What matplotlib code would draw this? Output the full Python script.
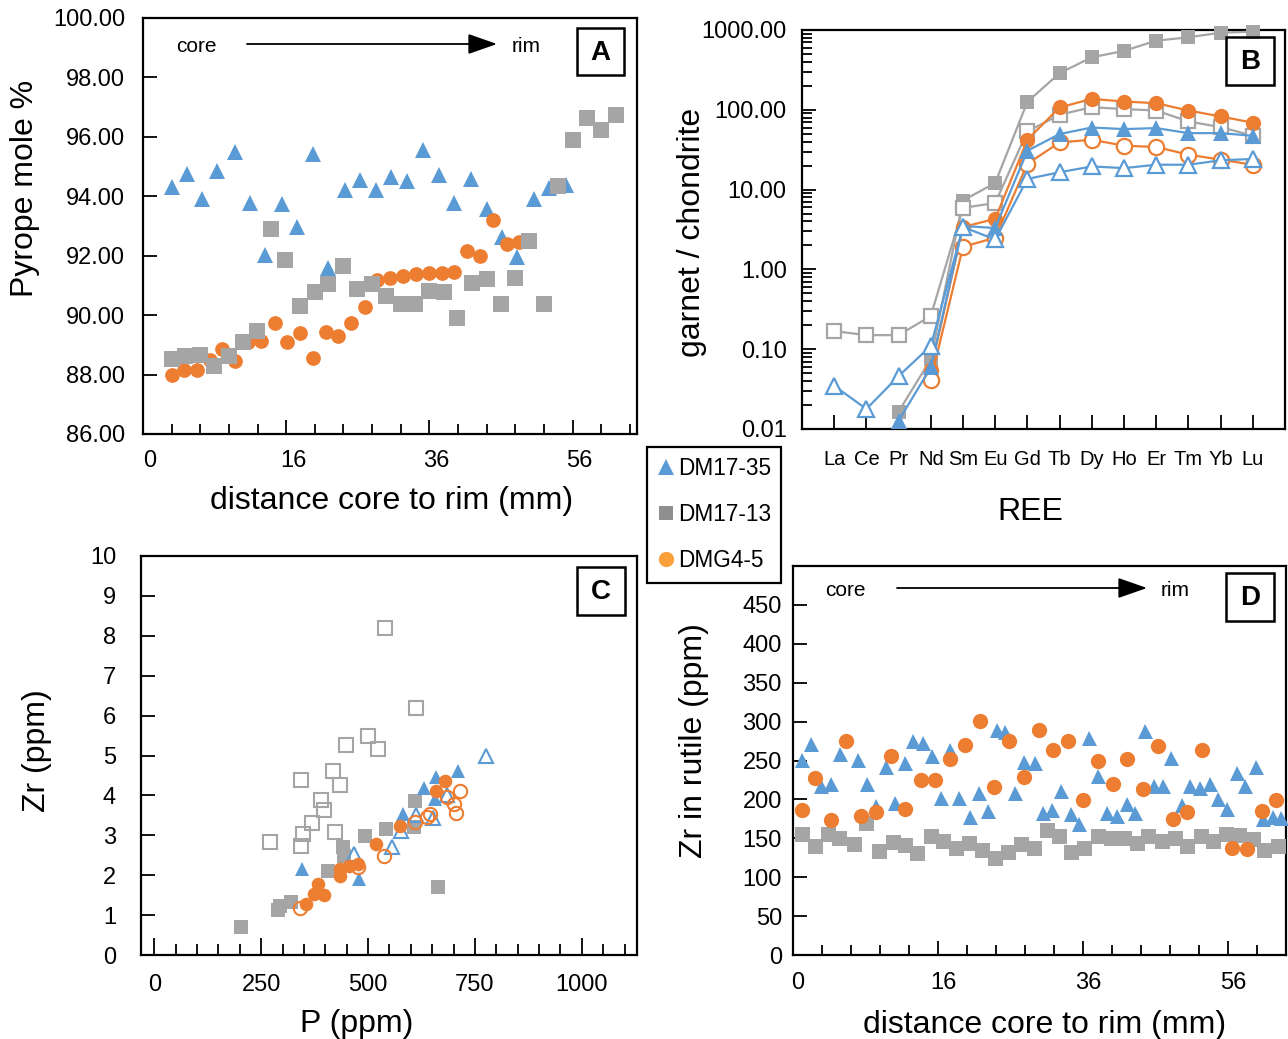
import matplotlib
matplotlib.use('Agg')
import matplotlib.pyplot as plt
import numpy as np
from matplotlib.ticker import FixedLocator, LogLocator, NullFormatter, FormatStrFormatter
from matplotlib.transforms import ScaledTranslation
from matplotlib.lines import Line2D
from matplotlib.patches import Rectangle, FancyArrowPatch

plt.rcParams['font.family'] = ['Liberation Sans', 'DejaVu Sans']

BLUE = '#5B9BD5'
ORANGE = '#ED7D31'
GRAY = '#A5A5A5'

# ---------------- Panel A : pyrope mole % vs distance ----------------
a_tri_x = [0.0, 2.1, 4.3, 6.4, 8.8, 10.9, 13.1, 15.4, 17.5, 19.7, 21.9, 24.2, 26.3,
           28.5, 30.7, 32.9, 35.1, 37.3, 39.5, 41.8, 44.0, 46.1, 48.3, 50.6, 52.7, 55.1]
a_tri_y = [94.30, 94.76, 93.92, 94.84, 95.48, 93.77, 92.03, 93.74, 92.98, 95.41, 91.58,
           94.22, 94.54, 94.20, 94.64, 94.50, 95.57, 94.70, 93.77, 94.59, 93.57, 92.62,
           91.97, 93.91, 94.28, 94.39]
a_sq_x = [0.0, 1.9, 3.9, 5.9, 8.0, 9.9, 11.9, 13.9, 15.9, 17.9, 20.0, 21.9, 23.9, 25.9,
          28.0, 30.0, 32.0, 34.0, 36.0, 38.0, 39.9, 42.0, 44.0, 46.0, 47.9, 49.9, 52.0,
          54.0, 56.0, 58.0, 60.0, 62.0]
a_sq_y = [88.54, 88.61, 88.65, 88.28, 88.61, 89.08, 89.47, 92.91, 91.86, 90.32, 90.79,
          91.05, 91.66, 90.87, 91.05, 90.64, 90.39, 90.39, 90.82, 90.79, 89.89, 91.07,
          91.20, 90.36, 91.26, 92.50, 90.39, 94.34, 95.89, 96.62, 96.23, 96.73]
a_ci_x = [0.0, 1.7, 3.5, 5.3, 7.1, 8.9, 10.7, 12.5, 14.4, 16.1, 17.9, 19.7, 21.5, 23.3,
          25.1, 27.0, 28.7, 30.5, 32.3, 34.1, 36.0, 37.7, 39.5, 41.3, 43.1, 44.9, 46.8, 48.5]
a_ci_y = [87.97, 88.16, 88.16, 88.50, 88.87, 88.45, 89.10, 89.12, 89.72, 89.08, 89.40,
          88.56, 89.44, 89.29, 89.72, 90.28, 91.18, 91.26, 91.33, 91.37, 91.41, 91.43,
          91.46, 92.16, 91.99, 93.21, 92.39, 92.46]

# ---------------- Panel B : REE garnet / chondrite ----------------
nan = np.nan
ree = ['La', 'Ce', 'Pr', 'Nd', 'Sm', 'Eu', 'Gd', 'Tb', 'Dy', 'Ho', 'Er', 'Tm', 'Yb', 'Lu']
b_gray_fill = [nan, nan, 0.0165, 0.075, 7.3, 12.1, 126, 288, 455, 547, 735, 810, 926, 953]
b_gray_open = [0.169, 0.150, 0.150, 0.261, 5.9, 6.8, 53.6, 86.6, 108, 102, 98, 71.4, 60.7, 47.3]
b_orange_fill = [nan, nan, nan, 0.055, 3.4, 4.3, 42.2, 107, 137, 127, 121, 98, 82.5, 69]
b_orange_open = [nan, nan, nan, 0.041, 1.92, 2.49, 21.1, 39, 42.2, 35.5, 34.2, 27.4, 23.7, 20.5]
b_blue_fill = [nan, nan, 0.0127, 0.059, 3.5, 3.3, 30.7, 49.7, 60, 57.3, 59, 51, 51, 47.3]
b_blue_open = [0.0348, 0.0178, 0.046, 0.11, 3.4, 2.37, 13.6, 16.5, 19.5, 18.6, 20.5, 20.5, 23.3, 24.2]

# ---------------- Panel C : Zr vs P ----------------
c_gray_open_x = [539, 613, 501, 523, 449, 344, 418, 435, 391, 396, 369, 348, 422, 344, 270]
c_gray_open_y = [8.20, 6.18, 5.48, 5.17, 5.27, 4.38, 4.61, 4.27, 3.89, 3.64, 3.31, 3.04, 3.09, 2.72, 2.84]
c_gray_fill_x = [203, 289, 293, 320, 406, 441, 443, 492, 541, 609, 607, 664]
c_gray_fill_y = [0.69, 1.13, 1.23, 1.34, 2.11, 2.70, 2.47, 2.97, 3.16, 3.87, 3.20, 1.71]
c_blue_fill_x = [345, 479, 582, 630, 659, 711, 656]
c_blue_fill_y = [2.16, 1.90, 3.54, 4.19, 4.46, 4.60, 3.92]
c_blue_open_x = [466, 557, 578, 612, 651, 684, 775]
c_blue_open_y = [2.53, 2.70, 3.12, 3.50, 3.43, 4.02, 4.98]
c_or_fill_x = [383, 373, 398, 354, 434, 434, 455, 477, 518, 574, 660, 680]
c_or_fill_y = [1.79, 1.54, 1.51, 1.28, 2.16, 1.99, 2.24, 2.28, 2.77, 3.24, 4.11, 4.35]
c_or_open_x = [341, 477, 537, 609, 637, 645, 684, 701, 705, 715]
c_or_open_y = [1.17, 2.20, 2.47, 3.33, 3.45, 3.54, 3.96, 3.79, 3.55, 4.11]

# ---------------- Panel D : Zr in rutile vs distance ----------------
d_sq_x = [-2.8, -1.0, 0.8, 2.4, 4.4, 6.1, 7.8, 9.8, 11.4, 13.1, 15.0, 16.7, 18.5, 20.3,
          22.0, 23.8, 25.6, 27.4, 29.2, 31.0, 32.7, 34.3, 36.1, 38.0, 39.8, 41.6, 43.4,
          45.0, 46.9, 48.7, 50.4, 52.3, 53.9, 55.7, 57.5, 59.4, 61.0, 62.9]
d_sq_y = [154.9, 139.9, 154.9, 150.6, 142.1, 169.9, 133.5, 145.5, 141.2, 131.4, 152.8,
          146.3, 137.8, 144.2, 134.4, 124.9, 132.2, 142.1, 137.8, 161.3, 152.8, 132.7,
          137.8, 152.8, 149.8, 149.8, 144.2, 152.8, 146.3, 150.6, 139.9, 152.8, 146.3,
          154.9, 154.0, 148.5, 135.6, 139.9]
d_tri_x = [-2.7, -1.5, -0.1, 1.3, 2.5, 5.0, 6.2, 7.5, 8.8, 10.1, 11.4, 12.6, 13.9, 15.2,
           16.4, 17.6, 18.9, 20.4, 21.6, 22.9, 24.1, 25.3, 26.6, 27.8, 29.4, 30.5, 31.7,
           33.0, 34.3, 35.5, 36.8, 38.1, 39.3, 40.7, 42.0, 43.2, 44.5, 45.8, 47.1, 48.2,
           49.6, 50.7, 52.2, 53.5, 54.6, 55.9, 57.2, 58.4, 59.8, 60.8, 62.2, 63.3]
d_tri_y = [251.2, 271.3, 216.9, 219.9, 258.4, 251.2, 219.9, 191.3, 241.3, 195.5, 246.9,
           274.7, 272.5, 255.5, 201.9, 264.0, 201.9, 177.2, 208.4, 184.9, 289.7, 286.7,
           208.4, 247.8, 246.9, 182.7, 187.0, 210.5, 180.6, 167.8, 279.0, 229.8, 181.9,
           178.4, 194.7, 182.7, 287.5, 216.9, 216.9, 253.3, 193.4, 216.9, 214.8, 219.9,
           201.1, 188.3, 234.0, 216.9, 241.7, 174.2, 177.2, 176.3]
d_ci_x = [-2.8, -0.9, 1.2, 3.3, 5.4, 7.5, 9.5, 11.5, 13.6, 15.6, 17.7, 19.7, 21.8, 23.7,
          25.8, 27.8, 29.9, 31.9, 33.9, 36.0, 38.1, 40.1, 42.1, 44.3, 46.3, 48.4, 50.4,
          52.4, 56.5, 58.6, 60.7, 62.6]
d_ci_y = [187.0, 227.6, 172.9, 275.6, 178.4, 184.0, 255.5, 188.3, 224.3, 225.5, 252.5,
          269.6, 301.3, 215.7, 274.7, 228.5, 289.7, 264.0, 274.7, 199.8, 249.0, 219.9,
          252.0, 213.5, 269.2, 174.2, 184.0, 264.0, 137.7, 135.7, 184.9, 199.8]

# ---------------- figure / layout ----------------
W, H = 1288, 1039
fig = plt.figure(figsize=(W / 100, H / 100), dpi=100)


def rect(l, t, r, b):
    return [l / W, 1 - b / H, (r - l) / W, (b - t) / H]


def fx(x):
    return x / W


def fy(y):
    return 1 - y / H


axA = fig.add_axes(rect(143, 18, 637, 434))
axB = fig.add_axes(rect(802, 30, 1285, 429))
axC = fig.add_axes(rect(141, 556, 637, 955))
axD = fig.add_axes(rect(793, 566, 1286, 955))

for ax in (axA, axB, axC, axD):
    for s in ax.spines.values():
        s.set_linewidth(1.6)
        s.set_color('black')
    ax.tick_params(which='both', direction='in', width=1.3, colors='black',
                   labelsize=17)
    ax.tick_params(which='major', length=10)
    ax.tick_params(which='minor', length=7)

# ---- A ----
axA.plot(a_tri_x, a_tri_y, ls='none', marker='^', ms=11.3, color=BLUE, mew=0, zorder=3, clip_on=False)
axA.plot(a_ci_x, a_ci_y, ls='none', marker='o', ms=10.6, color=ORANGE, mew=0, zorder=4, clip_on=False)
axA.plot(a_sq_x, a_sq_y, ls='none', marker='s', ms=11.0, color=GRAY, mew=0, zorder=5, clip_on=False)
axA.set_xlim(-4, 65)
axA.set_ylim(86, 100)
axA.set_yticks(np.arange(86, 100.1, 2))
axA.yaxis.set_major_formatter(FormatStrFormatter('%.2f'))
axA.set_xticks([-4, 16, 36, 56], ['0', '16', '36', '56'])
axA.xaxis.set_minor_locator(FixedLocator(np.arange(0, 65, 4)))
axA.tick_params(axis='y', pad=13)
axA.tick_params(axis='x', pad=11.5)
for lab in axA.get_xticklabels():
    lab.set_transform(lab.get_transform() + ScaledTranslation(0.07, 0, fig.dpi_scale_trans))

# ---- B ----
xb = np.arange(1, 15)
b_series = [
    (b_gray_fill, 's', GRAY, GRAY, 10.5),
    (b_gray_open, 's', GRAY, 'white', 10.5),
    (b_orange_fill, 'o', ORANGE, ORANGE, 11.0),
    (b_orange_open, 'o', ORANGE, 'white', 11.0),
    (b_blue_fill, '^', BLUE, BLUE, 11.5),
    (b_blue_open, '^', BLUE, 'white', 11.5),
]
for k, (vals, mk, col, face, ms) in enumerate(b_series):
    v = np.array(vals, dtype=float)
    axB.plot(xb, v, '-', color=col, lw=1.6, marker=mk, ms=ms, mfc=face, mec=col,
             mew=1.6 if face == 'white' else 0, zorder=3 + k, clip_on=False)
axB.set_yscale('log')
axB.set_ylim(0.01, 1000)
axB.set_xlim(0, 15)
axB.set_yticks([0.01, 0.1, 1, 10, 100, 1000])
axB.yaxis.set_major_formatter(FormatStrFormatter('%.2f'))
axB.yaxis.set_minor_locator(LogLocator(base=10, subs=np.arange(2, 10), numticks=20))
axB.yaxis.set_minor_formatter(NullFormatter())
axB.set_xticks(xb, ree)
axB.tick_params(axis='x', labelsize=14.5, pad=15)
axB.tick_params(axis='y', pad=11)

# ---- C ----
axC.plot(c_gray_open_x, c_gray_open_y, ls='none', marker='s', ms=9.6, mfc='none', mec=GRAY, mew=1.5, zorder=3)
axC.plot(c_gray_fill_x, c_gray_fill_y, ls='none', marker='s', ms=9.6, color=GRAY, mew=0, zorder=4)
axC.plot(c_blue_fill_x, c_blue_fill_y, ls='none', marker='^', ms=10.0, color=BLUE, mew=0, zorder=5)
axC.plot(c_blue_open_x, c_blue_open_y, ls='none', marker='^', ms=10.0, mfc='none', mec=BLUE, mew=1.5, zorder=6)
axC.plot(c_or_fill_x, c_or_fill_y, ls='none', marker='o', ms=9.8, color=ORANGE, mew=0, zorder=7)
axC.plot(c_or_open_x, c_or_open_y, ls='none', marker='o', ms=9.6, mfc='none', mec=ORANGE, mew=1.5, zorder=8)
axC.set_xlim(-31, 1129)
axC.set_ylim(0, 10)
axC.set_xticks([0, 250, 500, 750, 1000])
axC.xaxis.set_minor_locator(FixedLocator(np.arange(0, 1101, 50)))
axC.set_yticks(np.arange(0, 11, 1))
axC.tick_params(axis='y', pad=18)
axC.tick_params(axis='x', pad=13.5)
axC.tick_params(which='major', axis='x', length=12)
axC.tick_params(which='minor', axis='x', length=8)

# ---- D ----
axD.plot(d_sq_x, d_sq_y, ls='none', marker='s', ms=10.8, color=GRAY, mew=0, zorder=3, clip_on=False)
axD.plot(d_tri_x, d_tri_y, ls='none', marker='^', ms=10.8, color=BLUE, mew=0, zorder=4, clip_on=False)
axD.plot(d_ci_x, d_ci_y, ls='none', marker='o', ms=11.0, color=ORANGE, mew=0, zorder=5, clip_on=False)
axD.set_xlim(-4, 64)
axD.set_ylim(0, 500)
axD.set_yticks(np.arange(0, 451, 50))
axD.set_xticks([-4, 16, 36, 56], ['0', '16', '36', '56'])
axD.xaxis.set_minor_locator(FixedLocator(np.arange(0, 61, 4)))
axD.tick_params(axis='y', pad=8)
axD.tick_params(axis='x', pad=12.5)
for lab in axD.get_xticklabels():
    lab.set_transform(lab.get_transform() + ScaledTranslation(0.05, 0, fig.dpi_scale_trans))

# ---------------- axis titles ----------------
LS = 23
fig.text(fx(25), fy(188), 'Pyrope mole %', rotation=90, ha='center', va='center', fontsize=LS)
fig.text(fx(392), fy(501), 'distance core to rim (mm)', ha='center', va='center', fontsize=LS)
fig.text(fx(692), fy(232), 'garnet / chondrite', rotation=90, ha='center', va='center', fontsize=LS)
fig.text(fx(1030), fy(512), 'REE', ha='center', va='center', fontsize=LS)
fig.text(fx(37), fy(751), 'Zr (ppm)', rotation=90, ha='center', va='center', fontsize=LS)
fig.text(fx(357), fy(1024), 'P (ppm)', ha='center', va='center', fontsize=LS)
fig.text(fx(694), fy(741), 'Zr in rutile (ppm)', rotation=90, ha='center', va='center', fontsize=LS)
fig.text(fx(1045), fy(1025), 'distance core to rim (mm)', ha='center', va='center', fontsize=LS)

# ---------------- core -> rim arrows ----------------
for (cx, ax0, ax1, rx, yy) in [(196, 247, 497, 526, 44), (845, 897, 1147, 1175, 588)]:
    fig.text(fx(cx), fy(yy + 2), 'core', ha='center', va='center', fontsize=15)
    fig.text(fx(rx), fy(yy + 3), 'rim', ha='center', va='center', fontsize=15)
    fig.add_artist(FancyArrowPatch(
        (fx(ax0), fy(yy)), (fx(ax1), fy(yy)), transform=fig.transFigure,
        arrowstyle='-|>,head_length=1.2,head_width=0.42', mutation_scale=15,
        lw=1.3, color='black', shrinkA=0, shrinkB=0))

# ---------------- panel letters ----------------
for (l, t, r, b, letter) in [(577, 28, 624, 75, 'A'), (1226, 37, 1274, 85, 'B'),
                             (577, 567, 625, 615, 'C'), (1226, 573, 1274, 621, 'D')]:
    fig.add_artist(Rectangle((fx(l), fy(b)), (r - l) / W, (b - t) / H,
                             transform=fig.transFigure, fill=False, lw=1.8, ec='black'))
    fig.text(fx((l + r) / 2), fy((t + b) / 2 + 1), letter, ha='center', va='center',
             fontsize=20, fontweight='bold')

# ---------------- legend ----------------
handles = [
    Line2D([], [], ls='none', marker='^', ms=12, color=BLUE, mew=0),
    Line2D([], [], ls='none', marker='s', ms=10.5, color='#8F8F8F', mew=0),
    Line2D([], [], ls='none', marker='o', ms=11, color='#F9A03A', mew=0),
]
leg = fig.legend(handles, ['DM17-35', 'DM17-13', 'DMG4-5'], loc='upper left',
                 bbox_to_anchor=(fx(647), fy(447)), fontsize=16.3, frameon=True,
                 fancybox=False, edgecolor='black', framealpha=1,
                 borderpad=0.45, labelspacing=1.02, handlelength=0.8,
                 handletextpad=0.12, borderaxespad=0)
leg.get_frame().set_linewidth(1.6)

fig.savefig('out.png', dpi=100)
